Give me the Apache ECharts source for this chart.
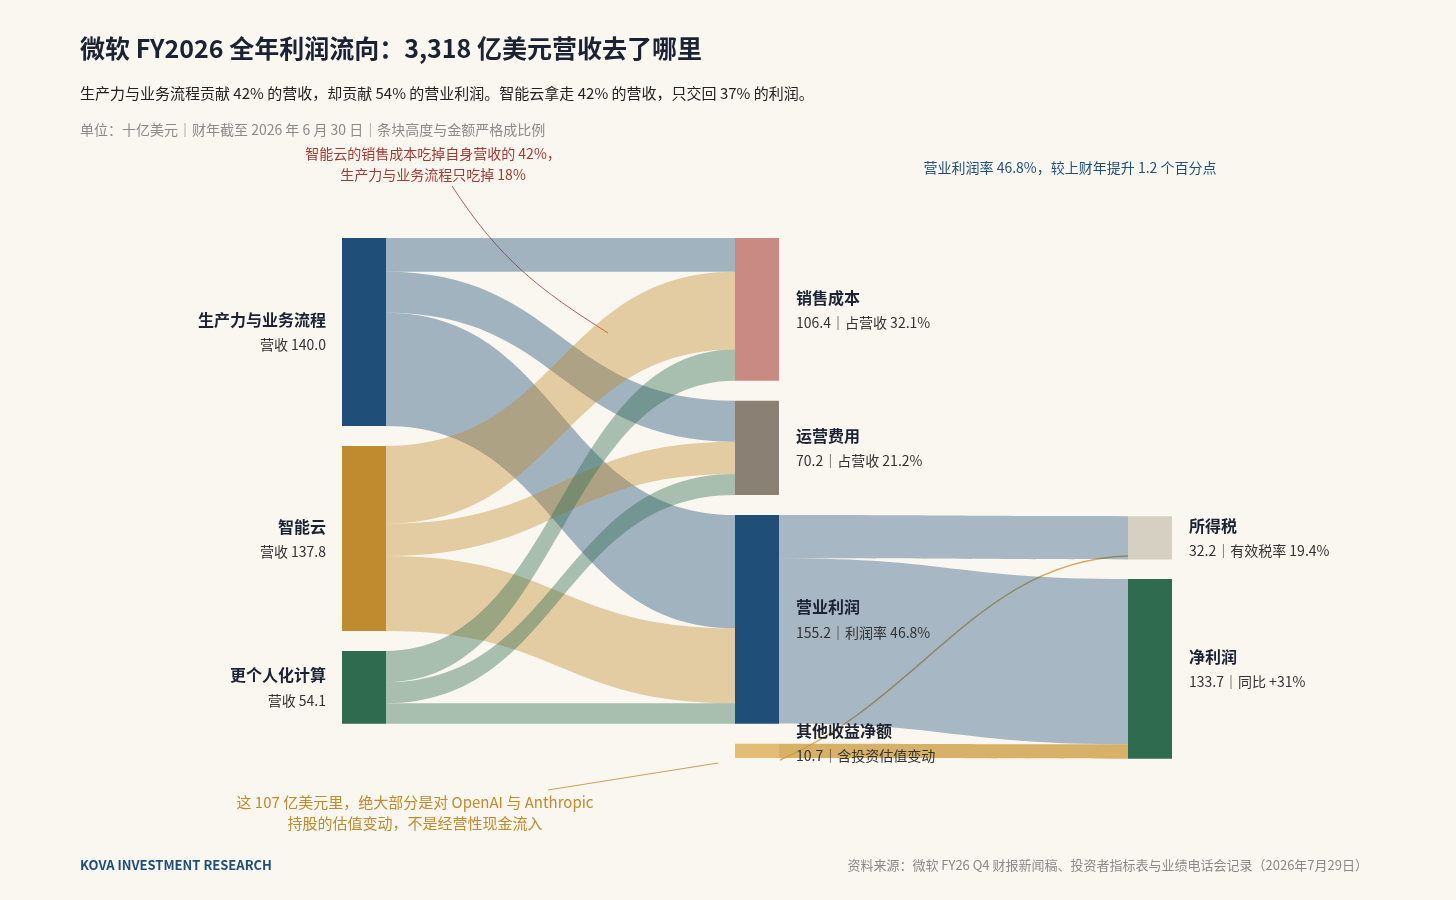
<!DOCTYPE html>
<html>
<head>
<meta charset="utf-8">
<title>微软 FY2026 利润流向</title>
<script src="https://cdn.jsdelivr.net/npm/echarts@6/dist/echarts.min.js"></script>
<style>
  html, body { margin: 0; padding: 0; background: #faf7f0; }
  #chart { width: 1456px; height: 900px; }
</style>
</head>
<body>
<div id="chart"></div>
<script>
// 节点：名称、副标题、颜色
var nodeNames = ['生产力与业务流程', '智能云', '更个人化计算', '销售成本', '运营费用', '营业利润', '其他收益净额', '所得税', '净利润'];
var nodeSubs = ['营收 140.0', '营收 137.8', '营收 54.1', '106.4｜占营收 32.1%', '70.2｜占营收 21.2%', '155.2｜利润率 46.8%', '10.7｜含投资估值变动', '32.2｜有效税率 19.4%', '133.7｜同比 +31%'];
var nodeColors = ['#1f4e79', '#c08a2e', '#2e6b4f', '#c98a84', '#8a8174', '#1f4e79', '#e2bd73', '#d6d0c3', '#2e6b4f'];
var nodeDepth = [0, 0, 0, 1, 1, 1, 1, 2, 2];
var nodeLocalY = [null, null, null, null, null, null, null, 0.535, 0.656];

// 流向（十亿美元）
var linkSource = ['生产力与业务流程', '生产力与业务流程', '生产力与业务流程', '智能云', '智能云', '智能云', '更个人化计算', '更个人化计算', '更个人化计算', '营业利润', '营业利润', '其他收益净额'];
var linkTarget = ['销售成本', '运营费用', '营业利润', '销售成本', '运营费用', '营业利润', '销售成本', '运营费用', '营业利润', '所得税', '净利润', '净利润'];
var linkValue = [25.2, 30.5, 84.3, 57.9, 24.0, 55.9, 23.3, 15.7, 15.1, 32.2, 123.0, 10.7];
var linkColor = ['#1f4e79', '#1f4e79', '#1f4e79', '#c08a2e', '#c08a2e', '#c08a2e', '#2e6b4f', '#2e6b4f', '#2e6b4f', '#1f4e79', '#1f4e79', '#c99a3a'];
var linkOpacity = [0.4, 0.4, 0.4, 0.4, 0.4, 0.4, 0.4, 0.4, 0.4, 0.38, 0.38, 0.75];

var font = '"Noto Sans CJK SC", "Noto Sans", sans-serif';

var nodes = nodeNames.map(function (n, i) {
    var left = nodeDepth[i] === 0;
    var item = {
        name: n,
        depth: nodeDepth[i],
        itemStyle: { color: nodeColors[i], opacity: 1 },
        label: {
            position: left ? 'left' : 'right',
            distance: left ? 16 : 17,
            align: left ? 'right' : 'left',
            formatter: '{a|' + n + '}\n{b|' + nodeSubs[i] + '}'
        }
    };
    if (nodeLocalY[i] != null) { item.localY = nodeLocalY[i]; }
    return item;
});
nodes[6].label.offset = [0, -8];

var links = linkValue.map(function (v, i) {
    return {
        source: linkSource[i], target: linkTarget[i], value: v,
        lineStyle: { color: linkColor[i], opacity: linkOpacity[i] }
    };
});

var chart = echarts.init(document.getElementById('chart'));
chart.setOption({
    backgroundColor: '#faf7f0',
    textStyle: { fontFamily: font },
    series: [{
        type: 'sankey',
        left: 342, top: 238, width: 830, height: 520,
        nodeWidth: 44,
        nodeGap: 20,
        layoutIterations: 0,
        draggable: false,
        emphasis: { disabled: true },
        lineStyle: { curveness: 0.5 },
        data: nodes,
        links: links,
        label: {
            fontFamily: font,
            rich: {
                a: { fontSize: 16, fontWeight: 'bold', color: '#1a2233', lineHeight: 26, fontFamily: font },
                b: { fontSize: 14, color: '#333', lineHeight: 24, fontFamily: font }
            }
        }
    }],
    graphic: [
        { type: 'text', left: 80, top: 36, style: { text: '微软 FY2026 全年利润流向：3,318 亿美元营收去了哪里', font: 'bold 25px ' + font, fill: '#1a2233' } },
        { type: 'text', left: 80, top: 86, style: { text: '生产力与业务流程贡献 42% 的营收，却贡献 54% 的营业利润。智能云拿走 42% 的营收，只交回 37% 的利润。', font: '15px ' + font, fill: '#222' } },
        { type: 'text', left: 80, top: 123, style: { text: '单位：十亿美元｜财年截至 2026 年 6 月 30 日｜条块高度与金额严格成比例', font: '14px ' + font, fill: '#8a8a8a' } },
        { type: 'text', x: 433, y: 143, style: { text: '智能云的销售成本吃掉自身营收的 42%，\n生产力与业务流程只吃掉 18%', font: '14px ' + font, fill: '#a33a32', align: 'center', lineHeight: 21 } },
        { type: 'bezierCurve', shape: { x1: 452, y1: 186, x2: 608, y2: 333, cpx1: 500, cpy1: 260, cpx2: 540, cpy2: 290 }, style: { stroke: '#b5625b', lineWidth: 1, fill: null } },
        { type: 'text', x: 1070, y: 161, style: { text: '营业利润率 46.8%，较上财年提升 1.2 个百分点', font: '14px ' + font, fill: '#1f4e79', align: 'center' } },
        { type: 'text', x: 415, y: 792, style: { text: '这 107 亿美元里，绝大部分是对 OpenAI 与 Anthropic\n持股的估值变动，不是经营性现金流入', font: '15px ' + font, fill: '#c08a2e', align: 'center', lineHeight: 21 } },
        { type: 'line', shape: { x1: 548, y1: 790, x2: 718, y2: 763 }, style: { stroke: '#c9a05a', lineWidth: 1 } },
        { type: 'bezierCurve', shape: { x1: 780, y1: 760, x2: 1128, y2: 556, cpx1: 920, cpy1: 700, cpx2: 980, cpy2: 560 }, style: { stroke: '#d4ad62', lineWidth: 1.5, fill: null } },
        { type: 'text', left: 80, top: 859, style: { text: 'KOVA INVESTMENT RESEARCH', font: 'bold 13px ' + font, fill: '#1f4e79' } },
        { type: 'text', right: 88, top: 859, style: { text: '资料来源：微软 FY26 Q4 财报新闻稿、投资者指标表与业绩电话会记录（2026年7月29日）', font: '13px ' + font, fill: '#8a8a8a' } }
    ]
});
</script>
</body>
</html>
